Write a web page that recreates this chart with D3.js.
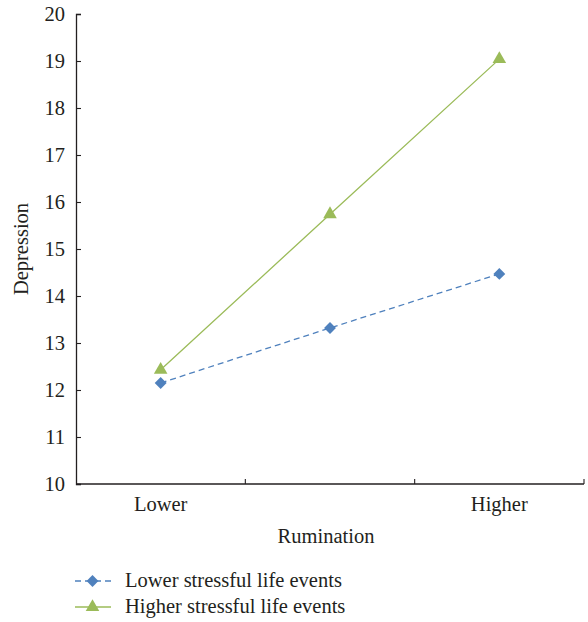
<!DOCTYPE html>
<html><head><meta charset="utf-8">
<script src="https://cdn.jsdelivr.net/npm/d3@7"></script>
<style>body{margin:0;background:#fff}svg text{font-family:"Liberation Serif","Times New Roman",serif !important;fill:#231f20}</style>
</head><body>
<svg id="c" width="588" height="622"></svg>
<script>
const categories = ["Lower", "", "Higher"];
const lowerStress = [12.15, 13.32, 14.47];
const higherStress = [12.43, 15.74, 19.04];
const yTicks = [10, 11, 12, 13, 14, 15, 16, 17, 18, 19, 20];
const seriesNames = ["Lower stressful life events", "Higher stressful life events"];

const FS = "20.5px";
const svg = d3.select("#c");
const m = {l: 76, r: 4, t: 14, b: 138};
const W = 588, H = 622;
const x = d3.scaleBand().domain(d3.range(categories.length)).range([m.l, W - m.r]);
const y = d3.scaleLinear().domain([10, 20]).range([H - m.b, m.t]);

// y axis
const ya = svg.append("g").attr("transform", `translate(${m.l},0)`)
  .call(d3.axisLeft(y).tickValues(yTicks).tickSize(-5).tickPadding(11).tickFormat(d3.format("d")));
ya.attr("font-family", null);
ya.selectAll("text").style("font-size", FS).attr("dy", "0.34em");
ya.select(".domain").attr("stroke", "#231f20").attr("stroke-width", 1.3);
ya.selectAll(".tick line").attr("stroke", "#231f20").attr("stroke-width", 1.1);

// x axis
const xa = svg.append("g").attr("transform", `translate(0,${y(10)})`);
xa.append("line").attr("x1", m.l).attr("x2", W - m.r).attr("stroke", "#231f20").attr("stroke-width", 1.3);
d3.range(categories.length).forEach(i => {
  const xe = x(i) + x.bandwidth();
  xa.append("line").attr("x1", xe).attr("x2", xe).attr("y1", 0).attr("y2", -5).attr("stroke", "#231f20").attr("stroke-width", 1.1);
  xa.append("text").attr("x", x(i) + x.bandwidth() / 2).attr("y", 27).attr("text-anchor", "middle")
    .style("font-size", FS).text(categories[i]);
});

svg.append("text").attr("x", 326).attr("y", 543).attr("text-anchor", "middle").style("font-size", FS).text("Rumination");
svg.append("text").attr("transform", `translate(28,${y(15)}) rotate(-90)`).attr("text-anchor", "middle").style("font-size", FS).text("Depression");

const cx = i => x(i) + x.bandwidth() / 2;
const line = d3.line().x((d, i) => cx(i)).y(d => y(d));
const blue = "#4f81bd", green = "#9bbb59";
const diamond = d3.symbol().type(d3.symbolDiamond2).size(90);
const tri = d3.symbol().type(d3.symbolTriangle).size(80);

svg.append("path").datum(lowerStress).attr("d", line).attr("fill", "none").attr("stroke", blue).attr("stroke-width", 1.3).attr("stroke-dasharray", "6,4");
svg.append("path").datum(higherStress).attr("d", line).attr("fill", "none").attr("stroke", green).attr("stroke-width", 1.3);
svg.selectAll(".d").data(lowerStress).join("path").attr("d", diamond).attr("fill", blue)
  .attr("transform", (d, i) => `translate(${cx(i)},${y(d)})`);
svg.selectAll(".t").data(higherStress).join("path").attr("d", tri).attr("fill", green)
  .attr("transform", (d, i) => `translate(${cx(i)},${y(d)})`);

// legend
const lg = [{c: blue, dash: "6,4", sym: diamond, y: 581}, {c: green, dash: null, sym: tri, y: 607}];
lg.forEach((L, i) => {
  const g = svg.append("g");
  g.append("line").attr("x1", 75).attr("x2", 111).attr("y1", L.y).attr("y2", L.y).attr("stroke", L.c).attr("stroke-width", 1.3)
    .attr("stroke-dasharray", L.dash);
  g.append("path").attr("d", L.sym).attr("fill", L.c).attr("transform", `translate(92.5,${L.y})`);
  g.append("text").attr("x", 125).attr("y", L.y + 6).style("font-size", FS).text(seriesNames[i]);
});
</script>
</body></html>
